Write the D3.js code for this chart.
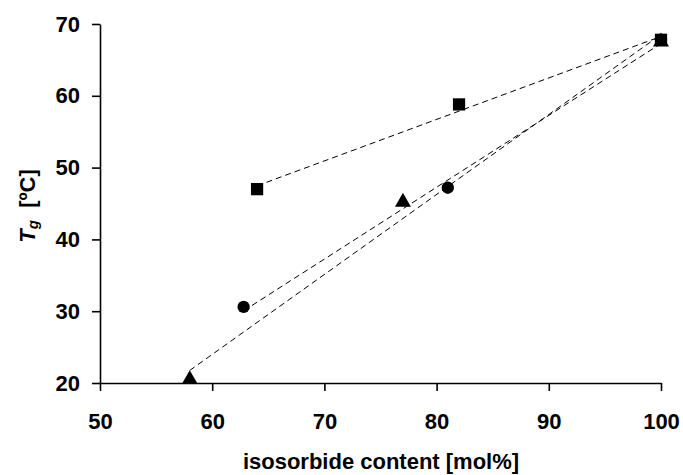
<!DOCTYPE html>
<html>
<head>
<meta charset="utf-8">
<script src="https://cdn.jsdelivr.net/npm/d3@7"></script>
<style>
  body { margin: 0; background: #fff; }
  text { font-family: "Liberation Sans", Arial, sans-serif; font-weight: bold; }
</style>
</head>
<body>
<div id="chart"></div>
<script>
'use strict';

// data
var squareX = [64, 82, 100];
var squareY = [47, 58.8, 67.8];
var circleX = [62.8, 81, 100];
var circleY = [30.6, 47.2, 67.8];
var triangleX = [58, 77, 100];
var triangleY = [20.5, 45.2, 67.5];
var xTicks = [50, 60, 70, 80, 90, 100];
var yTicks = [20, 30, 40, 50, 60, 70];

var width = 683, height = 475;
var svg = d3.select('#chart').append('svg')
  .attr('width', width)
  .attr('height', height);

var x = d3.scaleLinear().domain([50, 100]).range([100, 661]);
var y = d3.scaleLinear().domain([20, 70]).range([383, 24]);

// excel-style linear trendline over the x range of the points
function trend(xs, ys) {
  var mx = d3.mean(xs), my = d3.mean(ys);
  var sxy = d3.sum(xs, function(v, i) { return (v - mx) * (ys[i] - my); });
  var sxx = d3.sum(xs, function(v) { return (v - mx) * (v - mx); });
  var b = sxy / sxx, a = my - b * mx;
  var x0 = d3.min(xs), x1 = d3.max(xs);
  return [[x0, a + b * x0], [x1, a + b * x1]];
}

var series = [
  { xs: squareX, ys: squareY, shape: d3.symbolSquare, size: 150 },
  { xs: circleX, ys: circleY, shape: d3.symbolCircle, size: 120 },
  { xs: triangleX, ys: triangleY, shape: d3.symbolTriangle, size: 110 }
];

var line = d3.line()
  .x(function(d) { return x(d[0]); })
  .y(function(d) { return y(d[1]); });

// axes
var xAxis = svg.append('g')
  .attr('transform', 'translate(0,' + y(20) + ')')
  .call(d3.axisBottom(x).tickValues(xTicks).tickSize(8).tickPadding(22).tickSizeOuter(0));
var yAxis = svg.append('g')
  .attr('transform', 'translate(' + x(50) + ',0)')
  .call(d3.axisLeft(y).tickValues(yTicks).tickSize(8).tickPadding(12).tickSizeOuter(0));

[xAxis, yAxis].forEach(function(g) {
  g.select('.domain').attr('stroke', '#000').attr('stroke-width', 1.6);
  g.selectAll('.tick line').attr('stroke', '#000').attr('stroke-width', 1.6);
  g.selectAll('.tick text')
    .attr('fill', '#000')
    .style('font-size', '22px')
    .style('font-family', '"Liberation Sans", Arial, sans-serif')
    .style('font-weight', 'bold');
});

// trendlines
series.forEach(function(s) {
  svg.append('path')
    .attr('d', line(trend(s.xs, s.ys)))
    .attr('fill', 'none')
    .attr('stroke', '#000')
    .attr('stroke-width', 1)
    .attr('stroke-dasharray', '6,4');
});

// markers
series.forEach(function(s) {
  svg.selectAll(null)
    .data(s.xs.map(function(v, i) { return [v, s.ys[i]]; }))
    .enter()
    .append('path')
    .attr('d', d3.symbol().type(s.shape).size(s.size))
    .attr('transform', function(d) { return 'translate(' + x(d[0]) + ',' + y(d[1]) + ')'; })
    .attr('fill', '#000');
});

// axis titles
svg.append('text')
  .attr('x', 381)
  .attr('y', 469)
  .attr('text-anchor', 'middle')
  .style('font-size', '22px')
  .text('isosorbide content [mol%]');

var yl = svg.append('text')
  .attr('transform', 'translate(35,206) rotate(-90)')
  .attr('text-anchor', 'middle')
  .style('font-size', '22px');
yl.append('tspan').style('font-style', 'italic').text('T');
yl.append('tspan').style('font-style', 'italic').style('font-size', '15px').attr('dy', 3).text('g');
yl.append('tspan').attr('dy', -3).text('\u00a0 [ºC]');
</script>
</body>
</html>
